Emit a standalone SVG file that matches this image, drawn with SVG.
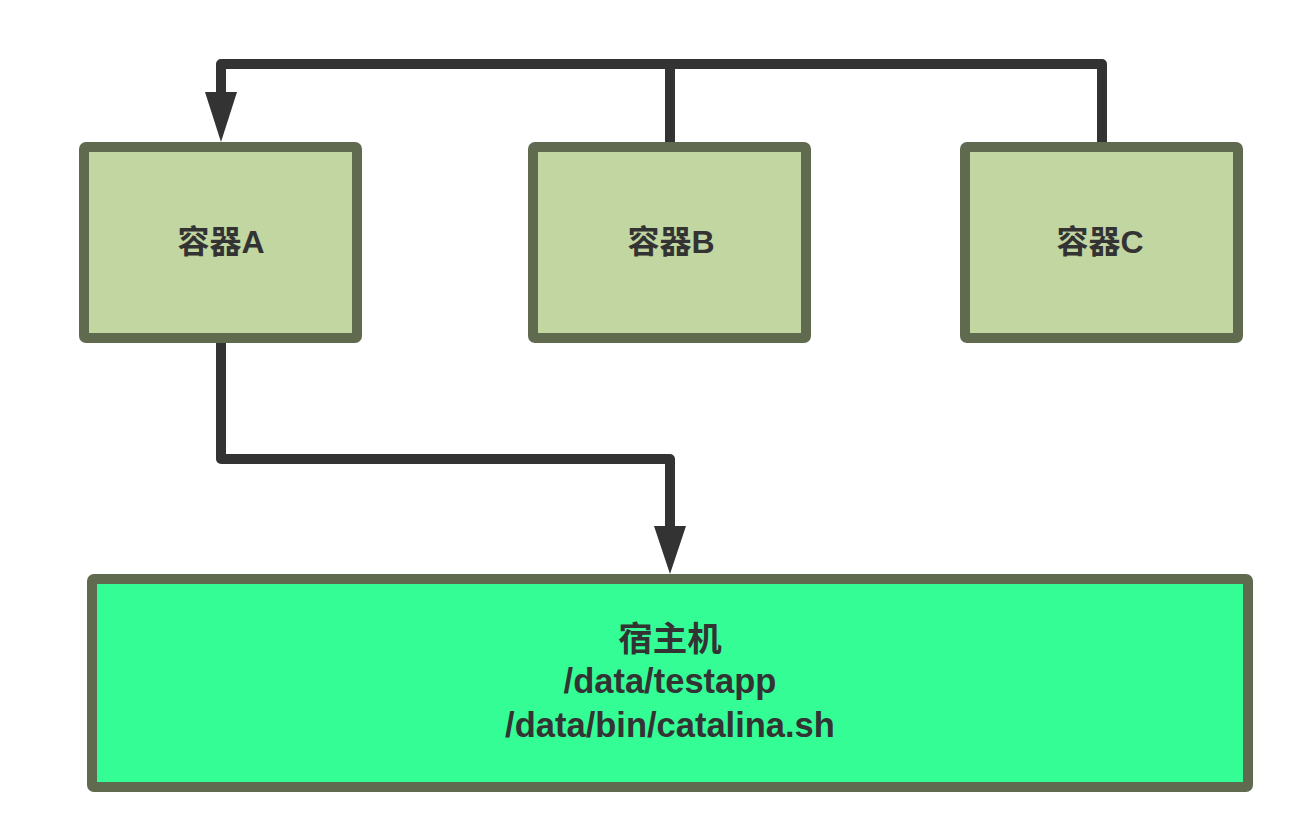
<svg xmlns="http://www.w3.org/2000/svg" width="1305" height="820" viewBox="0 0 1305 820">
<style>
.box{fill:#c2d6a2;stroke:#5f6a4f;stroke-width:10;}
.host{fill:#35fd96;stroke:#5f6a4f;stroke-width:10;}
.lbl{font-family:"Liberation Sans","Noto Sans CJK SC",sans-serif;font-size:32px;font-weight:bold;fill:#333;text-anchor:middle;}
.hl{font-family:"Liberation Sans","Noto Sans CJK SC",sans-serif;font-size:34.5px;font-weight:bold;fill:#333;text-anchor:middle;}
.wire{fill:none;stroke:#333;stroke-width:10;stroke-linejoin:round;}
</style>
<rect width="1305" height="820" fill="#fff"/>
<g id="connectors">
<path class="wire" d="M1102,142 L1102,64 L221,64 L221,100"/>
<path class="wire" d="M670,142 L670,64"/>
<path d="M205,92 L237,92 L221,142 Z" fill="#333"/>
<path class="wire" d="M221,343 L221,459 L670,459 L670,530"/>
<path d="M654,526 L686,526 L670,574 Z" fill="#333"/>
</g>
<g id="nodeA">
<rect class="box" x="84" y="147" width="273" height="191" rx="2"/>
<text class="lbl" x="221" y="253">容器A</text>
</g>
<g id="nodeB">
<rect class="box" x="533" y="147" width="273" height="191" rx="2"/>
<text class="lbl" x="671" y="253">容器B</text>
</g>
<g id="nodeC">
<rect class="box" x="965" y="147" width="273" height="191" rx="2"/>
<text class="lbl" x="1100" y="253">容器C</text>
</g>
<g id="host">
<rect class="host" x="92" y="579" width="1156" height="208" rx="2"/>
<text class="hl" x="670" y="651">宿主机</text>
<text class="hl" x="670" y="693">/data/testapp</text>
<text class="hl" x="670" y="737">/data/bin/catalina.sh</text>
</g>
</svg>
